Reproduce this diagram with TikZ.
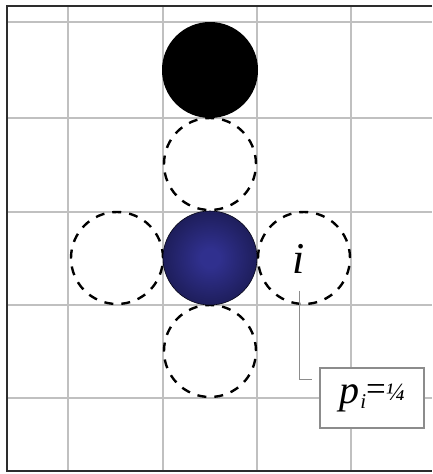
\documentclass[tikz,border=0pt]{standalone}
\usepackage{fontspec}
\setmainfont{Liberation Serif}
\newfontfamily\timesfont{Liberation Serif}
\usetikzlibrary{positioning}
\definecolor{gridgray}{RGB}{192,192,192}
\definecolor{framegray}{RGB}{45,45,45}
\definecolor{leadergray}{RGB}{140,140,140}
\definecolor{walkerin}{RGB}{48,48,142}
\definecolor{walkerout}{RGB}{5,5,22}
\pgfdeclareradialshading{walkerball}{\pgfpoint{0bp}{0bp}}{%
  color(0bp)=(walkerin); color(5bp)=(walkerin);
  color(24bp)=(walkerin!60!walkerout);
  color(42bp)=(walkerout); color(50bp)=(walkerout)}
\tikzset{
  gridline/.style={draw=gridgray, line width=1.8pt},
  frameline/.style={draw=framegray, line width=2pt},
  site/.style={circle, draw=black, dash pattern=on 9pt off 8pt,
    line width=2.4pt, minimum size=92pt, inner sep=0pt},
  occupied/.style={circle, fill=black, minimum size=96pt, inner sep=0pt},
  walker/.style={circle, shading=walkerball, draw=walkerout, line width=0.6pt,
    minimum size=94pt, inner sep=0pt},
  ilabel/.style={inner sep=0pt, font=\timesfont\fontsize{44}{44}\selectfont\itshape},
  probbox/.style={draw=leadergray, fill=white, line width=1.2pt,
    minimum width=104pt, minimum height=60pt, inner sep=0pt, font=\timesfont},
  leader/.style={draw=leadergray, line width=1pt},
}

\begin{document}
\begin{tikzpicture}[x=1pt, y=-1pt]
		\useasboundingbox (0,0) rectangle (432,474);

		% Grid
		\foreach \x in {68,163,257,351}
			\draw[gridline] (\x,6) -- (\x,471);
		\foreach \y in {22,118,212,305,398}
			\draw[gridline] (7,\y) -- (432,\y);

		% Frame
		\draw[frameline] (432,6) -- (7,6) -- (7,471) -- (432,471);

		% Lattice sites
		\node[occupied] (top) at (210,70) {};
		\node[site] (up) at (210,164) {};
		\node[site] (left) at (117,258) {};
		\node[site] (right) at (304,258) {};
		\node[site] (down) at (210,351) {};
		\node[walker] (centre) at (210,258) {};

		% Probability label
		\node[ilabel] (ilabel) at (299,259) {i};
		\node[probbox] (prob) at (372,398)
			{{\fontsize{40}{40}\selectfont\itshape p}\kern1pt\raisebox{-5pt}{\fontsize{21}{21}\selectfont\itshape i}\raisebox{3pt}{\fontsize{35}{35}\selectfont =}\raisebox{3pt}{\fontsize{25}{25}\selectfont\itshape ¼}};
		\coordinate (bend) at ([xshift=-7pt,yshift=19pt]prob.west);
		\draw[leader] ([yshift=-17pt]ilabel.south) |- (bend);
	\end{tikzpicture}
\end{document}
